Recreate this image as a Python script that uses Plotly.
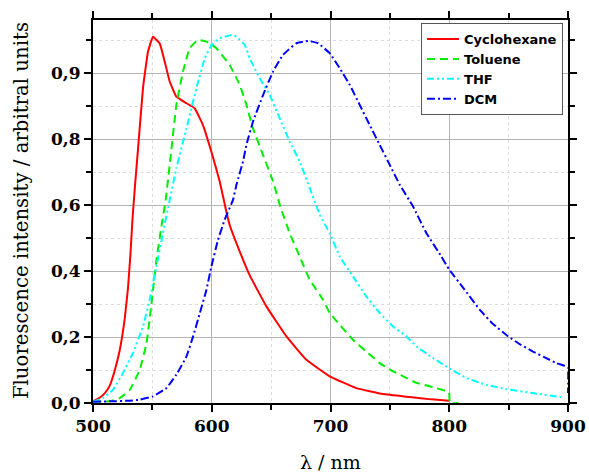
import plotly.graph_objects as go

# Cyclohexane
cyc_x = [500, 505.6, 510, 514, 518, 522.5, 526.7, 529.5, 531.5, 533.3, 535.5, 537.9, 542.1, 546.3, 550.5, 556.2,
         560.4, 564.6, 570.2, 578.7, 585.6, 592.6, 599.7, 606.7, 612.3, 615.1, 623.5, 632, 646, 662.9, 679.7,
         699.3, 721.8, 744.2, 766.7, 785, 799.8]
cyc_y = [0.005, 0.016, 0.03, 0.052, 0.095, 0.16, 0.255, 0.35, 0.45, 0.56, 0.665, 0.77, 0.955, 1.065, 1.111, 1.09,
         1.035, 0.975, 0.929, 0.909, 0.894, 0.843, 0.762, 0.672, 0.580, 0.540, 0.46, 0.387, 0.293, 0.202, 0.131,
         0.081, 0.045, 0.027, 0.018, 0.011, 0.007]

# Toluene
tol_x = [500, 514, 522.5, 531, 539.3, 545, 549.2, 553.4, 557.6, 561.2, 564.6, 570.2, 575.8, 581.4, 588.4,
         595.5, 603.9, 615.1, 623.5, 629.2, 634.7, 643.2, 651.6, 657.8, 665.6, 674.1, 682.5, 693.7, 699.3,
         707.8, 718.9, 730.2, 741.4, 752.6, 763.9, 772.3, 786.3, 799.8, 800.5, 808]
tol_y = [0.005, 0.005, 0.015, 0.04, 0.10, 0.18, 0.30, 0.434, 0.535, 0.616, 0.722, 0.904, 1.005, 1.076, 1.101,
         1.096, 1.076, 1.025, 0.965, 0.904, 0.833, 0.752, 0.672, 0.595, 0.515, 0.444, 0.374, 0.313, 0.273,
         0.237, 0.192, 0.156, 0.121, 0.096, 0.076, 0.061, 0.048, 0.032, 0.0, 0.0]

# THF
thf_x = [500, 508.4, 516.8, 525.3, 533.7, 542.1, 547.7, 553.4, 558.9, 564.6, 570.2, 578.7, 587.1, 594.1,
         599.7, 606.7, 616.5, 620.8, 627.8, 632, 640.4, 648.8, 657.2, 665.6, 674.1, 682.5, 690.9, 699.3,
         707.8, 718.9, 730.2, 741.4, 752.6, 763.9, 772.3, 786.3, 799.8, 814.4, 831.3, 848.1, 870.5, 894.4]
thf_y = [0.004, 0.015, 0.04, 0.091, 0.152, 0.232, 0.313, 0.414, 0.515, 0.616, 0.712, 0.833, 0.955, 1.045,
         1.085, 1.106, 1.116, 1.111, 1.086, 1.045, 0.985, 0.934, 0.864, 0.793, 0.732, 0.652, 0.571, 0.515,
         0.444, 0.384, 0.323, 0.273, 0.232, 0.202, 0.172, 0.136, 0.106, 0.076, 0.055, 0.042, 0.030, 0.018]

# DCM
dcm_x = [500, 514, 531, 539.3, 550.5, 561.8, 570.2, 578.7, 584.3, 590, 595.5, 599.7, 605.3, 610.9, 617.9,
         620.8, 626.3, 629.2, 634.7, 643.2, 651.6, 660, 671.3, 681.1, 689.5, 699.3, 707.8, 716.2, 724.6, 733,
         741.4, 749.9, 758.3, 769.5, 780.8, 793.4, 800, 811.6, 825.6, 836.8, 849.5, 860, 870.5, 880, 890.2,
         898.7, 900, 900]
dcm_y = [0.004, 0.005, 0.007, 0.01, 0.02, 0.045, 0.086, 0.141, 0.202, 0.273, 0.343, 0.414, 0.495, 0.556,
         0.616, 0.662, 0.732, 0.783, 0.853, 0.934, 1.005, 1.056, 1.091, 1.098, 1.091, 1.061, 1.015, 0.965,
         0.904, 0.843, 0.783, 0.722, 0.662, 0.596, 0.515, 0.444, 0.404, 0.350, 0.283, 0.240, 0.202, 0.177,
         0.156, 0.139, 0.121, 0.111, 0.108, 0.03]

names = ["Cyclohexane", "Toluene", "THF", "DCM"]
colors = ["#ff0000", "#00ee00", "#00ffff", "#0000ff"]
dashes = ["solid", "8px,5px", "7px,3px,2px,3px,2px,3px", "8px,3px,2px,3px"]

y_tickvals = [0, 0.2, 0.4, 0.6, 0.8, 1.0]
y_ticktext = ["0,0", "0,2", "0,4", "0,6", "0,8", "0,9"]
x_tickvals = [500, 600, 700, 800, 900]
x_ticktext = ["500", "600", "700", "800", "900"]

series = [(cyc_x, cyc_y), (tol_x, tol_y), (thf_x, thf_y), (dcm_x, dcm_y)]

fig = go.Figure()
for (xs, ys), n, c, d in zip(series, names, colors, dashes):
    fig.add_trace(go.Scatter(x=xs, y=ys, name=n, mode="lines",
                             line=dict(color=c, width=2, dash=d, shape="spline", smoothing=0.3)))

serif = "DejaVu Serif"
common = dict(
    showline=True, linecolor="black", linewidth=2, mirror="ticks",
    ticks="outside", ticklen=7, tickwidth=2, tickcolor="black",
    showgrid=True, gridcolor="#b4b4b4", gridwidth=1,
    zeroline=False, automargin=False,
    tickfont=dict(family=serif, size=17, color="black", weight="bold"),
)

fig.update_xaxes(
    range=[500, 900], tickmode="array", tickvals=x_tickvals, ticktext=x_ticktext,
    minor=dict(tick0=500, dtick=50, ticks="outside", ticklen=5, tickwidth=2, tickcolor="black",
               showgrid=True, gridcolor="#dddddd", griddash="dot", gridwidth=1),
    **common,
)
fig.update_yaxes(
    range=[0, 1.1615], tickmode="array", tickvals=y_tickvals, ticktext=y_ticktext,
    minor=dict(tick0=0, dtick=0.1, ticks="outside", ticklen=5, tickwidth=2, tickcolor="black",
               showgrid=True, gridcolor="#dddddd", griddash="dot", gridwidth=1),
    **common,
)

fig.update_layout(
    width=589, height=474,
    margin=dict(l=93, r=21, t=20, b=71),
    plot_bgcolor="white", paper_bgcolor="white",
    showlegend=True,
    legend=dict(x=0.9895, y=0.992, xanchor="right", yanchor="top",
                bgcolor="white", bordercolor="#555555", borderwidth=1,
                font=dict(family="DejaVu Sans", size=13, color="black", weight="bold"),
                itemwidth=32, tracegroupgap=0),
    annotations=[
        dict(text="λ / nm", xref="paper", yref="paper", x=0.5, y=-0.153,
             xanchor="center", yanchor="middle", showarrow=False,
             font=dict(family=serif, size=19, color="black")),
        dict(text="Fluorescence intensity / arbitral units", xref="paper", yref="paper",
             x=-0.15, y=0.503, xanchor="center", yanchor="middle",
             textangle=-90, showarrow=False,
             font=dict(family=serif, size=19.7, color="black")),
    ],
)

fig.write_html("out.html")
